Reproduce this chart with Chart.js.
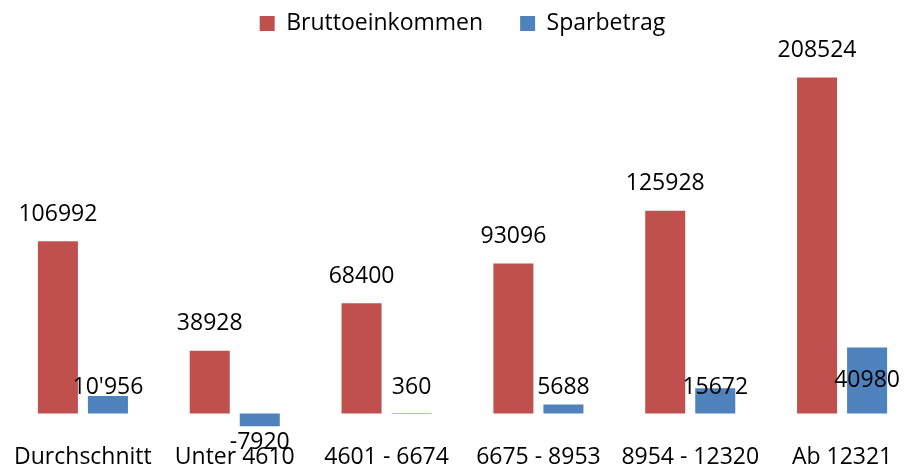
<!DOCTYPE html>
<html>
<head>
<meta charset="utf-8">
<script src="https://cdn.jsdelivr.net/npm/chart.js@4"></script>
<style>
  html, body { margin: 0; padding: 0; background: #fff; overflow: hidden; }
  #wrap { width: 925px; height: 465px; }
</style>
</head>
<body>
<div id="wrap"><canvas id="chart" width="925" height="465"></canvas></div>
<script>
// Daten
const categories = ['Durchschnitt', 'Unter 4610', '4601 - 6674', '6675 - 8953', '8954 - 12320', 'Ab 12321'];
const brutto = [106992, 38928, 68400, 93096, 125928, 208524];
const spar = [10956, -7920, 360, 5688, 15672, 40980];
const bruttoLabels = brutto.map(v => String(v));
const sparLabels = ["10'956", '-7920', '360', '5688', '15672', '40980'];

const FONT = '"Open Sans", "Liberation Sans", sans-serif';

// Werte über den Balken zeichnen
const valueLabels = {
    id: 'valueLabels',
    afterDatasetsDraw(chart) {
        const ctx = chart.ctx;
        const zero = chart.scales.y.getPixelForValue(0);
        ctx.save();
        ctx.font = '23px ' + FONT;
        ctx.fillStyle = '#000';
        ctx.textAlign = 'center';
        ctx.textBaseline = 'middle';
        chart.data.datasets.forEach((ds, i) => {
            const meta = chart.getDatasetMeta(i);
            meta.data.forEach((bar, j) => {
                const text = ds.valueText[j];
                let y;
                if (i === 0) {
                    y = bar.y - 27;
                } else if (ds.data[j] >= 0) {
                    y = Math.min(zero - 26, (bar.y + bar.base) / 2);
                } else {
                    y = zero + 29;
                }
                ctx.fillText(text, bar.x, y);
            });
        });
        ctx.restore();
    }
};

new Chart(document.getElementById('chart'), {
    type: 'bar',
    data: {
        labels: categories,
        datasets: [
            {
                label: 'Bruttoeinkommen',
                data: brutto,
                valueText: bruttoLabels,
                backgroundColor: '#C0504D',
                categoryPercentage: 0.659,
                barPercentage: 0.8
            },
            {
                label: 'Sparbetrag',
                data: spar,
                valueText: sparLabels,
                backgroundColor: '#4F81BD',
                categoryPercentage: 0.659,
                barPercentage: 0.8
            }
        ]
    },
    options: {
        responsive: false,
        animation: false,
        layout: { padding: { top: -25, left: 7, right: 7, bottom: -16 } },
        plugins: {
            legend: {
                position: 'top',
                labels: {
                    boxWidth: 15,
                    boxHeight: 15,
                    padding: 37,
                    color: '#000',
                    font: { family: FONT, size: 23 }
                }
            },
            tooltip: { enabled: false }
        },
        scales: {
            x: {
                grid: { display: false, drawTicks: false },
                border: { display: false },
                ticks: {
                    color: '#000',
                    padding: 10,
                    maxRotation: 0,
                    autoSkip: false,
                    font: { family: FONT, size: 23 }
                }
            },
            y: {
                min: -12300,
                max: 228700,
                ticks: { display: false, stepSize: 10000 },
                border: { display: false },
                grid: {
                    drawTicks: false,
                    color: c => c.tick.value === 0 ? '#868686' : 'rgba(0,0,0,0)',
                    lineWidth: 1.5
                }
            }
        }
    },
    plugins: [valueLabels]
});
</script>
</body>
</html>
